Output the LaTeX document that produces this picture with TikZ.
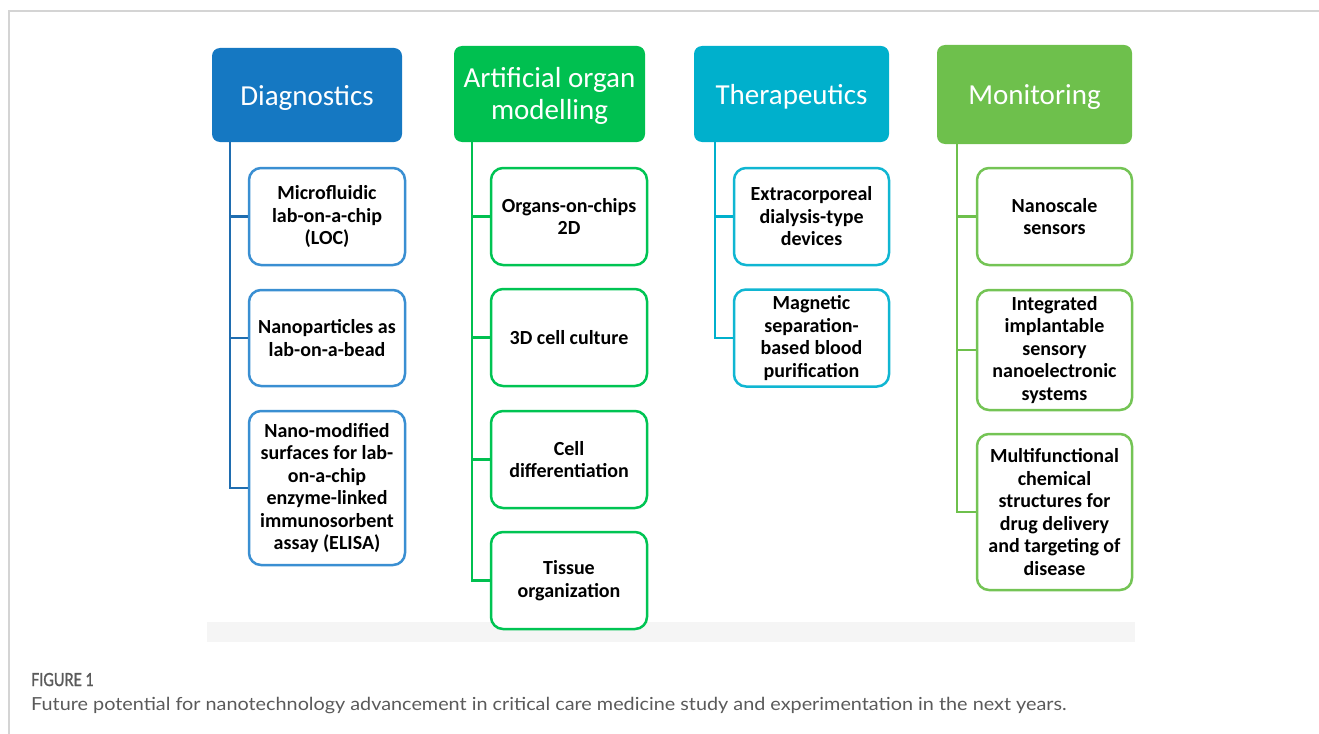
\documentclass[tikz,border=0pt]{standalone}
\usepackage{fontspec}
\setmainfont{Carlito}
\newfontfamily\capfont[FakeStretch=1.10]{Lato}
\newfontfamily\capnarrow[FakeStretch=0.80,FakeBold=1.4]{Lato}
\usetikzlibrary{calc}

\definecolor{diagH}{HTML}{1578C2}
\definecolor{diagB}{HTML}{3A8FD2}
\definecolor{diagL}{HTML}{1F6DB0}
\definecolor{artH}{HTML}{00C050}
\definecolor{artB}{HTML}{00C453}
\definecolor{therH}{HTML}{00B0CC}
\definecolor{therB}{HTML}{10B6D2}
\definecolor{monH}{HTML}{6EC04C}
\definecolor{monB}{HTML}{74C455}
\definecolor{frameC}{HTML}{D4D4D4}
\definecolor{bandC}{HTML}{F5F5F5}
\definecolor{capC}{HTML}{5A5A5A}

% header text lowered a little without changing the box it reports
\newcommand{\hdrtext}[1]{\raisebox{-3bp}[\height][\depth]{#1}}

\tikzset{
  header/.style={rectangle, rounded corners=8bp, draw=none, text=white,
    align=center, font=\fontsize{29bp}{33bp}\selectfont, inner sep=0pt},
  itembox/.style={rectangle, rounded corners=12bp, line width=2.5bp, fill=white,
    align=center, font=\fontsize{20bp}{22.5bp}\selectfont\bfseries, inner sep=0pt},
  trunk/.style={line width=2.5bp}
}

\begin{document}
\begin{tikzpicture}[x=1bp,y=-1bp]
\useasboundingbox (0,0) rectangle (1319,733);

% page frame
\draw[frameC, line width=1.5bp] (9,740) -- (9,11) -- (1325,11);
% light strip along the foot of the chart
\fill[bandC] (207,622) rectangle (1135,642);

% column headers
\node[header, fill=diagH, minimum width=190bp, minimum height=94bp] (hd) at (307,95) {\hdrtext{Diagnostics}};
\node[header, fill=artH, minimum width=191bp, minimum height=96bp] (ha) at (549.5,94) {\hdrtext{\begin{tabular}{@{}c@{}}Artificial organ\\[-1bp]modelling\end{tabular}}};
\node[header, fill=therH, minimum width=195bp, minimum height=96bp] (ht) at (791.5,94) {\hdrtext{Therapeutics}};
\node[header, fill=monH, minimum width=195bp, minimum height=99bp] (hm) at (1034.5,94.5) {\hdrtext{Monitoring}};

% Diagnostics
\begin{scope}[every node/.append style={itembox, draw=diagB, minimum width=156bp}]
\node[minimum height=97bp] (d1) at (327,216.5) {Microfluidic\\lab-on-a-chip\\(LOC)};
\node[minimum height=96bp] (d2) at (327,338) {Nanoparticles as\\lab-on-a-bead};
\node[minimum height=154bp] (d3) at (327,488) {Nano-modified\\surfaces for lab-\\on-a-chip\\enzyme-linked\\immunosorbent\\assay (ELISA)};
\end{scope}
\coordinate (dt) at (230,142);
\draw[trunk, diagL] (dt) |- (d3.west);
\draw[trunk, diagL] (dt) |- (d1.west);
\draw[trunk, diagL] (dt) |- (d2.west);

% Artificial organ modelling
\begin{scope}[every node/.append style={itembox, draw=artB, minimum width=156bp, minimum height=97bp}]
\node (a1) at (569,216.5) {Organs-on-chips\\2D};
\node (a2) at (569,337.5) {3D cell culture};
\node (a3) at (569,459.5) {Cell\\differentiation};
\node (a4) at (569,580.5) {Tissue\\organization};
\end{scope}
\coordinate (at) at (472,142);
\draw[trunk, artH] (at) |- (a4.west);
\draw[trunk, artH] (at) |- (a1.west);
\draw[trunk, artH] (at) |- (a2.west);
\draw[trunk, artH] (at) |- (a3.west);

% Therapeutics
\begin{scope}[every node/.append style={itembox, draw=therB, minimum width=155bp, minimum height=97bp}]
\node (t1) at (811.5,216.5) {Extracorporeal\\dialysis-type\\devices};
\node (t2) at (811.5,338) {Magnetic\\separation-\\based blood\\purification};
\end{scope}
\coordinate (tt) at (715,142);
\draw[trunk, therH] (tt) |- (t2.west);
\draw[trunk, therH] (tt) |- (t1.west);

% Monitoring
\begin{scope}[every node/.append style={itembox, draw=monB, minimum width=155bp}]
\node[minimum height=97bp] (m1) at (1054.5,216.5) {Nanoscale\\sensors};
\node[minimum height=120bp] (m2) at (1054.5,350) {Integrated\\implantable\\sensory\\nanoelectronic\\systems};
\node[minimum height=156bp] (m3) at (1054.5,512) {Multifunctional\\chemical\\structures for\\drug delivery\\and targeting of\\disease};
\end{scope}
\coordinate (mt) at (957,144);
\draw[trunk, monH] (mt) |- (m3.west);
\draw[trunk, monH] (mt) |- (m1.west);
\draw[trunk, monH] (mt) |- (m2.west);

% caption
\node[anchor=base west, inner sep=0pt, text=capC, font=\capnarrow\fontsize{18bp}{20bp}\selectfont] (fig) at (31,686) {FIGURE 1};
\node[anchor=base west, inner sep=0pt, text=capC, font=\capfont\fontsize{18bp}{20bp}\selectfont] (cap) at (31,710) {Future potential for nanotechnology advancement in critical care medicine study and experimentation in the next years.};
\end{tikzpicture}
\end{document}
